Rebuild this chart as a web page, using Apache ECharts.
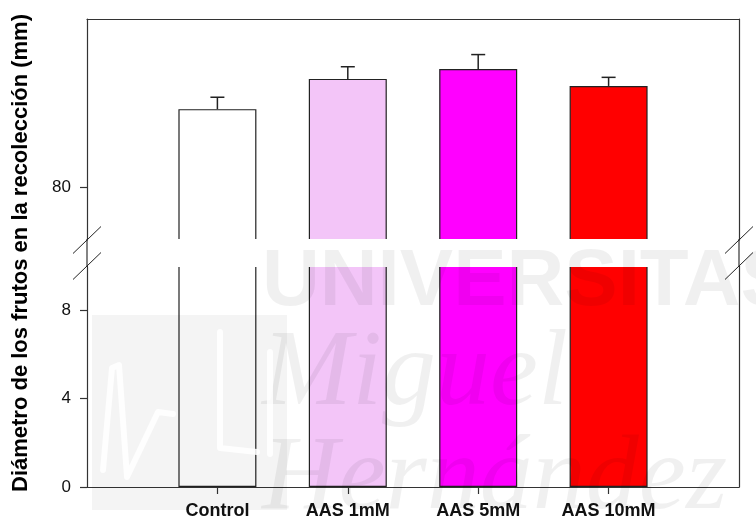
<!DOCTYPE html>
<html>
<head>
<meta charset="utf-8">
<script src="https://cdn.jsdelivr.net/npm/echarts@6/dist/echarts.min.js"></script>
<style>
  html, body { margin: 0; padding: 0; background: #fff; }
  #chart { width: 756px; height: 530px; }
</style>
</head>
<body>
<div id="chart"></div>
<script>
// Fruit diameter at harvest (mm), mean + standard error per treatment
const categories = ['Control', 'AAS 1mM', 'AAS 5mM', 'AAS 10mM'];
const diameters = [83.52, 84.89, 85.34, 84.57];
const errors = [0.54, 0.55, 0.65, 0.39];
const barColors = ['#FFFFFF', '#F3C5F8', '#FF00FF', '#FF0000'];

// Broken value axis: upper and lower segments
const upperRange = [77.6, 87.6];
const upperTicks = [80];
const lowerRange = [0, 10];
const lowerTicks = [0, 4, 8];

const yTitle = 'Diámetro de los frutos en la recolección (mm)';

// Plot frame geometry (px)
const LEFT = 87, WIDTH = 652, TOP = 19, SEG_H = 221, GAP = 26;
const LOWER_TOP = TOP + SEG_H + GAP;
const RIGHT = LEFT + WIDTH;
const AXIS = '#333';
const FONT = '"Liberation Sans", Arial, sans-serif';

// category slots 0..5, bars sit on slots 1..4
const slots = [''].concat(categories, ['']);
const barData = ['-'].concat(diameters.map((v, i) => ({
  value: v,
  itemStyle: { color: barColors[i] }
})), ['-']);
const errData = diameters.map((v, i) => [i + 1, v, errors[i]]);

const chart = echarts.init(document.getElementById('chart'), null, { renderer: 'canvas' });

function errorBar(params, api) {
  const x = api.value(0), v = api.value(1), e = api.value(2);
  const base = api.coord([x, v]);
  const tip = api.coord([x, v + e]);
  const hw = 7;
  const st = { stroke: '#222', lineWidth: 1.5 };
  return {
    type: 'group',
    children: [
      { type: 'line', shape: { x1: base[0], y1: base[1], x2: tip[0], y2: tip[1] }, style: st },
      { type: 'line', shape: { x1: tip[0] - hw, y1: tip[1], x2: tip[0] + hw, y2: tip[1] }, style: st }
    ]
  };
}

const lineOnly = {
  axisLine: { show: true, lineStyle: { color: AXIS, width: 1.2 } },
  axisTick: { show: false },
  axisLabel: { show: false },
  splitLine: { show: false }
};

function leftAxis(gridIndex, range, ticks) {
  return {
    type: 'value', gridIndex, position: 'left',
    min: range[0], max: range[1],
    axisLine: { show: true, lineStyle: { color: AXIS, width: 1.2 } },
    axisTick: { show: true, length: 7, lineStyle: { color: AXIS, width: 1.2 }, customValues: ticks },
    axisLabel: { show: true, customValues: ticks, margin: 16, color: '#111', fontSize: 17, fontFamily: FONT },
    splitLine: { show: false }
  };
}

function rightAxis(gridIndex, range) {
  return Object.assign({ type: 'value', gridIndex, position: 'right', min: range[0], max: range[1] }, lineOnly);
}

// break marks and the frame through the gap
const breakY = TOP + SEG_H + GAP / 2;
function slash(cx, dy) {
  return {
    type: 'line', z: 120, silent: true,
    shape: { x1: cx - 14, y1: breakY + dy + 13.5, x2: cx + 14, y2: breakY + dy - 13.5 },
    style: { stroke: '#222', lineWidth: 1 }
  };
}

const watermarkFill = 'rgba(0,0,0,0.06)';
const logoStroke = { stroke: 'rgba(255,255,255,0.85)', lineWidth: 6, lineJoin: 'round', lineCap: 'round' };

chart.setOption({
  animation: false,
  backgroundColor: '#fff',
  grid: [
    { left: LEFT, top: TOP, width: WIDTH, height: SEG_H },
    { left: LEFT, top: LOWER_TOP, width: WIDTH, height: SEG_H }
  ],
  xAxis: [
    Object.assign({ type: 'category', gridIndex: 0, data: slots, boundaryGap: false, position: 'top' }, lineOnly),
    {
      type: 'category', gridIndex: 1, data: slots, boundaryGap: false, position: 'bottom',
      axisLine: { show: true, lineStyle: { color: AXIS, width: 1.2 } },
      axisTick: { show: true, length: 7, lineStyle: { color: AXIS, width: 1.2 }, interval: (i, v) => v !== '' },
      axisLabel: { show: true, interval: 0, margin: 15, color: '#111', fontSize: 18, fontWeight: 'bold', fontFamily: FONT },
      splitLine: { show: false }
    }
  ],
  yAxis: [
    leftAxis(0, upperRange, upperTicks),
    rightAxis(0, upperRange),
    leftAxis(1, lowerRange, lowerTicks),
    rightAxis(1, lowerRange)
  ],
  series: [
    {
      type: 'bar', xAxisIndex: 0, yAxisIndex: 0, data: barData, barWidth: 78, clip: true,
      itemStyle: { borderColor: '#222', borderWidth: 1.2 }
    },
    {
      type: 'custom', xAxisIndex: 0, yAxisIndex: 0, data: errData, renderItem: errorBar,
      encode: { x: 0, y: 1 }, z: 3
    },
    {
      type: 'bar', xAxisIndex: 1, yAxisIndex: 2, data: barData, barWidth: 78, clip: true,
      itemStyle: { borderColor: '#222', borderWidth: 1.2 }
    }
  ],
  graphic: [
    // gap between the two axis segments
    { type: 'rect', z: 100, silent: true,
      shape: { x: LEFT + 1, y: TOP + SEG_H - 1, width: WIDTH - 2, height: GAP + 2 },
      style: { fill: '#fff' } },
    { type: 'line', z: 110, silent: true, shape: { x1: LEFT, y1: TOP + SEG_H - 1, x2: LEFT, y2: LOWER_TOP + 1 },
      style: { stroke: AXIS, lineWidth: 1.2 } },
    { type: 'line', z: 110, silent: true, shape: { x1: RIGHT, y1: TOP + SEG_H - 1, x2: RIGHT, y2: LOWER_TOP + 1 },
      style: { stroke: AXIS, lineWidth: 1.2 } },
    slash(LEFT, -13), slash(LEFT, 13),
    slash(RIGHT, -13), slash(RIGHT, 13),
    // value axis title
    { type: 'text', z: 120, silent: true, x: 21, y: 253, rotation: Math.PI / 2,
      style: { text: yTitle, font: 'bold 22px "Liberation Sans", Arial, sans-serif', fill: '#000',
               align: 'center', verticalAlign: 'middle' } },
    // university watermark
    { type: 'rect', z: 200, silent: true, shape: { x: 92, y: 315, width: 195, height: 195 },
      style: { fill: 'rgba(0,0,0,0.045)' } },
    { type: 'polyline', z: 201, silent: true,
      shape: { points: [[103, 470], [112, 368], [119, 365], [127, 477], [158, 412], [173, 414]] },
      style: logoStroke },
    { type: 'polyline', z: 201, silent: true,
      shape: { points: [[220, 332], [220, 448], [257, 452]] }, style: logoStroke },
    { type: 'polyline', z: 201, silent: true,
      shape: { points: [[270, 352], [270, 454]] }, style: logoStroke },
    { type: 'text', z: 200, silent: true, x: 262, y: 283,
      style: { text: 'UNIVERSITAS', font: 'bold 80px "Liberation Sans", Arial, sans-serif', fill: watermarkFill,
               align: 'left', verticalAlign: 'middle' } },
    { type: 'text', z: 200, silent: true, x: 262, y: 376,
      style: { text: 'Miguel', font: 'italic 108px "Liberation Serif", "Times New Roman", serif', fill: watermarkFill,
               align: 'left', verticalAlign: 'middle' } },
    { type: 'text', z: 200, silent: true, x: 262, y: 480,
      style: { text: 'Hernández', font: 'italic 106px "Liberation Serif", "Times New Roman", serif', fill: watermarkFill,
               align: 'left', verticalAlign: 'middle' } }
  ]
});
</script>
</body>
</html>
